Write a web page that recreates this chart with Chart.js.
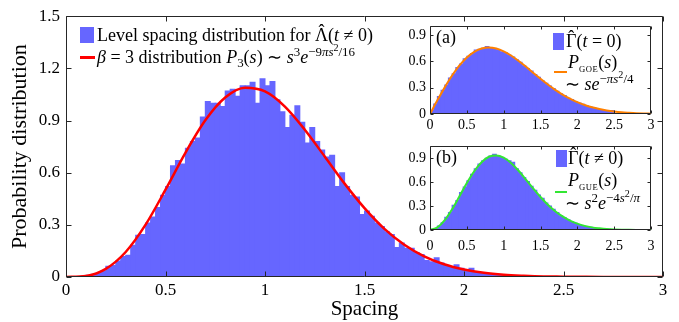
<!DOCTYPE html>
<html>
<head>
<meta charset="utf-8">
<script src="https://cdn.jsdelivr.net/npm/chart.js@4.4.0/dist/chart.umd.min.js"></script>
<style>
  html, body { margin: 0; padding: 0; background: #fff; }
  #wrap { position: relative; width: 679px; height: 322px; font-family: "Liberation Serif", serif; color: #000; overflow: hidden; }
  canvas { position: absolute; }
  #main { left: 0; top: 0; }
  #insetA { left: 390px; top: 14px; }
  #insetB { left: 390px; top: 134px; }
  .lg { position: absolute; white-space: nowrap; font-size: 18px; line-height: 20px; }
  .sw { position: absolute; }
  sup, sub { font-size: 0.72em; line-height: 0; position: relative; vertical-align: baseline; }
  sup { top: -0.55em; }
  sub { top: 0.3em; }
  sup sup { font-size: 0.78em; top: -0.45em; }
  .hat { position: relative; display: inline-block; }
  .hat::before { content: "\02C6"; position: absolute; left: 0; right: 0; text-align: center; top: -0.24em; }
  .sc { font-size: 0.48em; letter-spacing: 0.5px; top: 0.5em; }
</style>
</head>
<body>
<div id="wrap">
  <canvas id="main" width="679" height="322"></canvas>
  <canvas id="insetA" width="279" height="124"></canvas>
  <canvas id="insetB" width="279" height="124"></canvas>

  <!-- main legend -->
  <div class="sw" style="left:80px;top:27px;width:14px;height:16px;background:#6666ff"></div>
  <div class="lg" style="left:97px;top:25px">Level spacing distribution for <span class="hat">Λ</span>(<i>t</i> ≠ 0)</div>
  <div class="sw" style="left:80px;top:56px;width:15px;height:3px;background:#ff0000"></div>
  <div class="lg" style="left:97px;top:47px"><i>β</i> = 3 distribution <i>P</i><sub>3</sub>(<i>s</i>) ∼ <i>s</i><sup>3</sup><i>e</i><sup>−9<i>πs</i><sup>2</sup>/16</sup></div>

  <!-- inset (a) legend -->
  <div class="lg" style="left:436px;top:27px">(a)</div>
  <div class="sw" style="left:553px;top:33px;width:11px;height:17px;background:#6666ff"></div>
  <div class="lg" style="left:566px;top:31px"><span class="hat">Γ</span>(<i>t</i> = 0)</div>
  <div class="lg" style="left:568px;top:52px"><i>P</i><sub class="sc">GOE</sub>(<i>s</i>)</div>
  <div class="sw" style="left:554px;top:71px;width:13px;height:2px;background:#ff8000"></div>
  <div class="lg" style="left:565px;top:74px">∼ <i>se</i><sup>−<i>πs</i><sup>2</sup>/4</sup></div>

  <!-- inset (b) legend -->
  <div class="lg" style="left:436px;top:147px">(b)</div>
  <div class="sw" style="left:556px;top:150px;width:11px;height:17px;background:#6666ff"></div>
  <div class="lg" style="left:568px;top:148px"><span class="hat">Γ</span>(<i>t</i> ≠ 0)</div>
  <div class="lg" style="left:568px;top:170px"><i>P</i><sub class="sc">GUE</sub>(<i>s</i>)</div>
  <div class="sw" style="left:555px;top:191px;width:12px;height:2px;background:#33e633"></div>
  <div class="lg" style="left:565px;top:193px">∼ <i>s</i><sup>2</sup><i>e</i><sup>−4<i>s</i><sup>2</sup>/<i>π</i></sup></div>
</div>

<script>
// histogram heights
const mainBinWidth = 0.025;
const mainHist = [
  0, 0.001, 0.002, 0.004, 0.01, 0.016, 0.022, 0.035, 0.062, 0.066,
  0.092, 0.118, 0.125, 0.182, 0.24, 0.245, 0.31, 0.345, 0.40, 0.47,
  0.52, 0.64, 0.67, 0.65, 0.74, 0.78, 0.80, 0.92, 1.01, 1.0,
  1.0, 0.98, 1.07, 1.08, 1.04, 1.1, 1.1, 1.12, 1.0, 1.14,
  1.1, 1.125, 1.02, 0.95, 0.86, 0.93, 0.985, 0.89, 0.77, 0.86,
  0.78, 0.73, 0.69, 0.70, 0.52, 0.60, 0.52, 0.47, 0.46, 0.36,
  0.38, 0.35, 0.31, 0.29, 0.26, 0.245, 0.17, 0.195, 0.165, 0.165,
  0.14, 0.13, 0.095, 0.088, 0.11, 0.08, 0.066, 0.06, 0.07, 0.05,
  0.042, 0.05, 0.03, 0.025, 0.02, 0.018, 0.014, 0.012, 0.01, 0.008,
  0.006, 0.004
];

const insetBinWidth = 0.05;
const goeHist = [
  0.04, 0.115, 0.20, 0.27, 0.33, 0.41, 0.46, 0.53, 0.57, 0.63,
  0.66, 0.69, 0.73, 0.74, 0.75, 0.77, 0.75, 0.74, 0.73, 0.71,
  0.70, 0.67, 0.65, 0.62, 0.59, 0.55, 0.52, 0.49, 0.45, 0.42,
  0.38, 0.35, 0.32, 0.29, 0.26, 0.23, 0.21, 0.18, 0.165, 0.14,
  0.125, 0.11, 0.095, 0.08, 0.07, 0.06, 0.05, 0.04, 0.035, 0.04
];
const gueHist = [
  0.002, 0.018, 0.05, 0.09, 0.16, 0.22, 0.31, 0.37, 0.47, 0.54,
  0.62, 0.70, 0.77, 0.83, 0.87, 0.90, 0.93, 0.95, 0.93, 0.91,
  0.89, 0.87, 0.85, 0.77, 0.72, 0.66, 0.61, 0.55, 0.50, 0.44,
  0.40, 0.34, 0.30, 0.26, 0.22, 0.18, 0.155, 0.13, 0.105, 0.085,
  0.07, 0.055, 0.045, 0.035, 0.027, 0.02, 0.015, 0.011, 0.008, 0.006
];

// reference curves, sampled every 0.1 from s = 0 to 3
const curveStep = 0.1;
const p3Curve = [
  0, 0.006, 0.047, 0.144, 0.301, 0.502, 0.714, 0.901, 1.032, 1.088,
  1.067, 0.980, 0.847, 0.693, 0.537, 0.396, 0.277, 0.186, 0.119, 0.073,
  0.043, 0.024, 0.013, 0.007, 0.003, 0.002, 0.001, 0.0003, 0.0001, 0.00005, 0.00002
];
const goeCurve = [
  0, 0.156, 0.304, 0.439, 0.554, 0.645, 0.710, 0.748, 0.760, 0.748,
  0.716, 0.668, 0.608, 0.542, 0.472, 0.403, 0.337, 0.276, 0.222, 0.176,
  0.136, 0.103, 0.077, 0.057, 0.041, 0.029, 0.020, 0.014, 0.009, 0.006, 0.004
];
const gueCurve = [
  0, 0.032, 0.123, 0.260, 0.423, 0.590, 0.738, 0.851, 0.920, 0.936,
  0.908, 0.841, 0.747, 0.637, 0.523, 0.415, 0.318, 0.236, 0.170, 0.118,
  0.080, 0.052, 0.033, 0.021, 0.012, 0.007, 0.004, 0.002, 0.001, 0.0005, 0.0003
];

const xTicks = [0, 0.5, 1, 1.5, 2, 2.5, 3];
const mainYTicks = [0, 0.3, 0.6, 0.9, 1.2, 1.5];
const insetYTicks = [0, 0.3, 0.6, 0.9];

const histColor = '#6666ff';
const serif = '"Liberation Serif", serif';

const toBars = (vals, w) => vals.map((v, i) => ({ x: (i + 0.5) * w, y: v }));
const toLine = (vals, step) => vals.map((v, i) => ({ x: +(i * step).toFixed(2), y: v }));
const fmt = v => String(Number(v.toFixed(2)));

// box round the axes with inward ticks on all four sides (matlab look)
const framePlugin = {
  id: 'frame',
  beforeDraw(chart, args, opts) {
    if (!opts.fill) return;
    const a = chart.chartArea, ctx = chart.ctx;
    ctx.save();
    ctx.fillStyle = opts.fill;
    ctx.fillRect(a.left, a.top, a.width, a.height);
    ctx.restore();
  },
  afterDatasetsDraw(chart, args, opts) {
    const { ctx, chartArea: a, scales } = chart;
    const len = opts.len || 4;
    const l = Math.round(a.left) + 0.5, r = Math.round(a.right) - 0.5;
    const t = Math.round(a.top) + 0.5, b = Math.round(a.bottom) - 0.5;
    ctx.save();
    ctx.strokeStyle = '#262626';
    ctx.lineWidth = 1;
    ctx.beginPath();
    scales.x.ticks.forEach(tk => {
      const px = Math.round(scales.x.getPixelForValue(tk.value)) + 0.5;
      ctx.moveTo(px, b); ctx.lineTo(px, b - len);
      ctx.moveTo(px, t); ctx.lineTo(px, t + len);
    });
    scales.y.ticks.forEach(tk => {
      const py = Math.round(scales.y.getPixelForValue(tk.value)) + 0.5;
      ctx.moveTo(l, py); ctx.lineTo(l + len, py);
      ctx.moveTo(r, py); ctx.lineTo(r - len, py);
    });
    ctx.rect(l, t, r - l, b - t);
    ctx.stroke();
    ctx.restore();
  }
};

function makeChart(id, hist, binW, curve, color, o) {
  return new Chart(document.getElementById(id), {
    type: 'bar',
    data: {
      datasets: [
        {
          type: 'line',
          data: toLine(curve, curveStep),
          borderColor: color,
          borderWidth: o.lw,
          pointRadius: 0,
          cubicInterpolationMode: 'monotone',
          order: 0
        },
        {
          type: 'bar',
          data: toBars(hist, binW),
          backgroundColor: histColor,
          borderWidth: 0,
          inflateAmount: 0.5,
          barPercentage: 1,
          categoryPercentage: 1,
          order: 1
        }
      ]
    },
    options: {
      responsive: false,
      animation: false,
      events: [],
      layout: { padding: { left: 0, top: o.top, right: o.right, bottom: 0 } },
      plugins: {
        legend: { display: false },
        tooltip: { enabled: false },
        frame: { len: o.tickLen, fill: o.fill }
      },
      scales: {
        x: {
          type: 'linear',
          min: 0,
          max: 3,
          offset: false,
          grid: { display: false, drawTicks: false },
          border: { display: false },
          afterBuildTicks: s => { s.ticks = xTicks.map(v => ({ value: v })); },
          afterFit: s => { s.height = o.xh; },
          ticks: { color: '#000', font: { family: serif, size: o.tick }, padding: o.xpad, maxRotation: 0, autoSkip: false, callback: fmt },
          title: o.xTitle
            ? { display: true, text: o.xTitle, color: '#000', font: { family: serif, size: 21 }, padding: { top: 0, bottom: 0 } }
            : { display: false }
        },
        y: {
          min: 0,
          max: o.ymax,
          grid: { display: false, drawTicks: false },
          border: { display: false },
          afterBuildTicks: s => { s.ticks = o.yTicks.map(v => ({ value: v })); },
          afterFit: s => { s.width = o.yw; },
          ticks: { color: '#000', font: { family: serif, size: o.tick }, padding: o.ypad, autoSkip: false, callback: fmt },
          title: o.yTitle
            ? { display: true, text: o.yTitle, color: '#000', font: { family: serif, size: 22 }, padding: { top: 7, bottom: 0 } }
            : { display: false }
        }
      }
    },
    plugins: [framePlugin]
  });
}

makeChart('main', mainHist, mainBinWidth, p3Curve, '#ff0000', {
  lw: 2.5, top: 15, right: 16, xh: 45, yw: 66, tick: 17, xpad: 3, ypad: 6,
  ymax: 1.5, yTicks: mainYTicks, tickLen: 5, fill: null,
  xTitle: 'Spacing', yTitle: 'Probability distribution'
});

makeChart('insetA', goeHist, insetBinWidth, goeCurve, '#ff8000', {
  lw: 2, top: 10, right: 18, xh: 24, yw: 40, tick: 14, xpad: 3, ypad: 4,
  ymax: 1.0, yTicks: insetYTicks, tickLen: 3, fill: '#ffffff'
});

makeChart('insetB', gueHist, insetBinWidth, gueCurve, '#33e633', {
  lw: 2, top: 10, right: 18, xh: 28, yw: 40, tick: 14, xpad: 8, ypad: 4,
  ymax: 1.05, yTicks: insetYTicks, tickLen: 3, fill: '#ffffff'
});
</script>
</body>
</html>
